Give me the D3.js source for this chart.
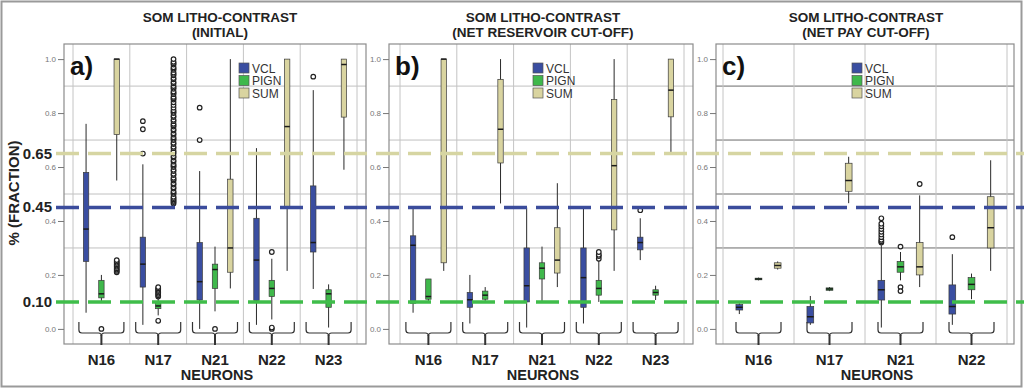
<!DOCTYPE html>
<html>
<head>
<meta charset="utf-8">
<script src="https://cdn.jsdelivr.net/npm/d3@7"></script>
<style>
  body { margin: 0; background: #fff; }
  svg { display: block; font-family: "Liberation Sans", Arial, sans-serif; }
</style>
</head>
<body>
<div id="chart"></div>
<script>
const w = 1024;
const h = 392;

const seriesNames = ["VCL", "PIGN", "SUM"];
const seriesColors = ["#3a4ea1", "#3fb84b", "#d9d4a0"];

const neuronsAB = ["N16", "N17", "N21", "N22", "N23"];
const neuronsC = ["N16", "N17", "N21", "N22"];

// box stats: [low whisker, q1, median, q3, high whisker]
const vclA = [[0.06, 0.25, 0.37, 0.58, 0.76], [0.015, 0.155, 0.24, 0.34, 0.61], [0.0, 0.107, 0.175, 0.32, 0.585], [0.015, 0.105, 0.255, 0.41, 0.67], [0.148, 0.285, 0.32, 0.53, 0.885]];
const pignA = [[0.10, 0.115, 0.13, 0.18, 0.20], [0.05, 0.075, 0.085, 0.10, 0.115], [0.065, 0.15, 0.22, 0.24, 0.305], [0.035, 0.12, 0.15, 0.18, 0.26], [0.005, 0.08, 0.13, 0.145, 0.165]];
const sumA = [[0.55, 0.72, 1.0, 1.0, 1.0], null, [0.15, 0.21, 0.30, 0.555, 1.0], [0.215, 0.45, 0.75, 1.0, 1.0], [0.59, 0.785, 0.98, 1.0, 1.0]];
const vclOutA = [[], [0.77, 0.74, 0.65], [0.82, 0.70], [], [0.935]];
const pignOutA = [[0.0], [0.12, 0.125, 0.13, 0.135, 0.14, 0.145, 0.15, 0.155, 0.03], [0.0], [0.285, 0.0, 0.005], []];
const sumOutA = [
  [0.21, 0.215, 0.22, 0.225, 0.23, 0.235, 0.24, 0.245, 0.25, 0.255],
  [0.465, 0.47, 0.475, 0.48, 0.485, 0.49, 0.50, 0.505, 0.51, 0.52, 0.525, 0.535, 0.54, 0.55, 0.555, 0.56, 0.57, 0.575, 0.585, 0.59, 0.60, 0.605, 0.61, 0.62, 0.625, 0.635, 0.64, 0.65, 0.655, 0.66, 0.67, 0.675, 0.685, 0.69, 0.70, 0.705, 0.71, 0.72, 0.725, 0.735, 0.74, 0.75, 0.755, 0.76, 0.77, 0.775, 0.785, 0.79, 0.80, 0.805, 0.81, 0.82, 0.83, 0.84, 0.85, 0.855, 0.86, 0.87, 0.875, 0.88, 0.89, 0.895, 0.90, 0.91, 0.915, 0.925, 0.93, 0.94, 0.945, 0.95, 0.96, 0.965, 0.97, 0.98, 0.985, 0.99, 1.0],
  [], [], []
];

const vclB = [[0.06, 0.095, 0.31, 0.345, 0.447], [0.02, 0.08, 0.108, 0.135, 0.20], [0.005, 0.10, 0.16, 0.30, 0.45], [0.02, 0.08, 0.19, 0.30, 0.448], [0.255, 0.293, 0.32, 0.34, 0.41]];
const pignB = [[0.10, 0.11, 0.12, 0.185, 0.185], [0.10, 0.11, 0.125, 0.14, 0.155], [0.10, 0.185, 0.225, 0.245, 0.305], [0.10, 0.125, 0.15, 0.18, 0.255], [0.107, 0.125, 0.135, 0.145, 0.16]];
const sumB = [[0.215, 0.245, 1.0, 1.0, 1.0], [0.465, 0.615, 0.74, 0.925, 1.0], [0.155, 0.207, 0.255, 0.375, 0.54], [0.215, 0.367, 0.605, 0.85, 1.0], [0.655, 0.786, 0.885, 1.0, 1.0]];
const vclOutB = [[], [], [], [], [0.44]];
const pignOutB = [[], [], [], [0.26, 0.27, 0.275, 0.285], []];
const sumOutB = [[], [], [], [], []];

const vclC = [[0.055, 0.07, 0.08, 0.09, 0.095], [0.015, 0.022, 0.045, 0.083, 0.122], [0.005, 0.107, 0.145, 0.18, 0.31], [0.015, 0.055, 0.083, 0.163, 0.277]];
const pignC = [[0.18, 0.182, 0.185, 0.188, 0.19], [0.14, 0.143, 0.148, 0.152, 0.155], [0.18, 0.21, 0.23, 0.25, 0.285], [0.11, 0.145, 0.165, 0.19, 0.205]];
const sumC = [[0.22, 0.225, 0.235, 0.245, 0.25], [0.466, 0.51, 0.55, 0.614, 0.638], [0.155, 0.20, 0.23, 0.32, 0.495], [0.215, 0.30, 0.375, 0.49, 0.625]];
const vclOutC = [[], [], [0.32, 0.325, 0.33, 0.34, 0.35, 0.36, 0.37, 0.38, 0.39, 0.41], [0.34]];
const pignOutC = [[], [], [0.305, 0.155, 0.14], []];
const sumOutC = [[], [], [0.537], []];

const yTicks = [0.0, 0.2, 0.4, 0.6, 0.8, 1.0];
const gridValues = [0.3, 0.5, 0.7, 0.9];
const cutoffs = [0.65, 0.45, 0.10];
const cutoffLabels = ["0.65", "0.45", "0.10"];
const cutoffColors = ["#d6d5a2", "#3b4c9c", "#3fbd4a"];

const panels = [
  { tag: "a)", sub: "(INITIAL)", left: 64, right: 366, inner: [73, 357], titleX: 220, footX: 217, legendX: 239,
    neurons: neuronsAB, stats: [vclA, pignA, sumA], outs: [vclOutA, pignOutA, sumOutA], darkGrid: false },
  { tag: "b)", sub: "(NET RESERVOIR CUT-OFF)", left: 389, right: 693, inner: [400, 684], titleX: 543, footX: 543, legendX: 533,
    neurons: neuronsAB, stats: [vclB, pignB, sumB], outs: [vclOutB, pignOutB, sumOutB], darkGrid: false },
  { tag: "c)", sub: "(NET PAY CUT-OFF)", left: 716, right: 1014, inner: [723, 1007], titleX: 866, footX: 877, legendX: 852,
    neurons: neuronsC, stats: [vclC, pignC, sumC], outs: [vclOutC, pignOutC, sumOutC], darkGrid: true }
];

const plotTop = 44, plotBottom = 344;

const svg = d3.select("#chart").append("svg")
  .attr("width", w)
  .attr("height", h);

const y = d3.scaleLinear().domain([-0.056, 1.056]).range([plotBottom, plotTop]);

// outer frame
svg.append("rect")
  .attr("x", 1.5).attr("y", 1.5)
  .attr("width", 1020).attr("height", 385)
  .attr("fill", "none")
  .attr("stroke", "#9a9a9a")
  .attr("stroke-width", 2);

panels.forEach(p => {
  const g = svg.append("g");

  const x = d3.scaleBand().domain(p.neurons).range(p.inner);
  const bw = x.bandwidth();
  const off = d3.scalePoint().domain(seriesNames).range([-bw * 0.27, bw * 0.27]);
  const boxW = bw * 0.095;

  // titles
  g.append("text").attr("x", p.titleX).attr("y", 22)
    .attr("text-anchor", "middle").attr("font-weight", "bold").attr("font-size", 13.5)
    .attr("fill", "#222").text("SOM LITHO-CONTRAST");
  g.append("text").attr("x", p.titleX).attr("y", 37)
    .attr("text-anchor", "middle").attr("font-weight", "bold").attr("font-size", 13.5)
    .attr("fill", "#222").text(p.sub);

  // horizontal grid
  g.selectAll(".hgrid").data(gridValues).enter().append("line")
    .attr("x1", p.left).attr("x2", p.right)
    .attr("y1", d => y(d)).attr("y2", d => y(d))
    .attr("stroke", p.darkGrid ? "#6a6a6a" : "#c0c0c0")
    .attr("stroke-width", 1);

  // vertical grid at band edges
  const edges = p.neurons.map(n => x(n)).concat([x(p.neurons[p.neurons.length - 1]) + bw]);
  g.selectAll(".vgrid").data(edges).enter().append("line")
    .attr("x1", d => d).attr("x2", d => d)
    .attr("y1", plotTop).attr("y2", plotBottom)
    .attr("stroke", "#c4c4c4").attr("stroke-width", 1);

  // plot frame
  g.append("rect")
    .attr("x", p.left).attr("y", plotTop)
    .attr("width", p.right - p.left).attr("height", plotBottom - plotTop)
    .attr("fill", "none").attr("stroke", "#8c8c8c").attr("stroke-width", 1.2);

  // y axis
  const yAxis = g.append("g")
    .attr("transform", `translate(${p.left},0)`)
    .call(d3.axisLeft(y).tickValues(yTicks).tickFormat(d3.format(".1f")).tickSize(6).tickPadding(2));
  yAxis.select(".domain").remove();
  yAxis.selectAll("line").attr("stroke", "#777");
  yAxis.selectAll("text").attr("font-size", 8).attr("fill", "#777")
    .attr("font-family", "'Liberation Sans', Arial, sans-serif");

  // boxes
  seriesNames.forEach((s, si) => {
    p.neurons.forEach((n, ni) => {
      const cx = x(n) + bw / 2 + off(s);
      const st = p.stats[si][ni];
      if (st) {
        g.append("line")
          .attr("x1", cx).attr("x2", cx)
          .attr("y1", y(st[0])).attr("y2", y(st[4]))
          .attr("stroke", "#2a2a2a").attr("stroke-width", 1);
        g.append("rect")
          .attr("x", cx - boxW / 2).attr("y", y(st[3]))
          .attr("width", boxW).attr("height", Math.max(1.5, y(st[1]) - y(st[3])))
          .attr("fill", seriesColors[si])
          .attr("stroke", "#3a3a3a").attr("stroke-width", 0.7);
        g.append("line")
          .attr("x1", cx - boxW / 2).attr("x2", cx + boxW / 2)
          .attr("y1", y(st[2])).attr("y2", y(st[2]))
          .attr("stroke", "#1a1a1a").attr("stroke-width", 1.5);
      }
      g.selectAll(null).data(p.outs[si][ni]).enter().append("circle")
        .attr("cx", cx).attr("cy", d => y(d))
        .attr("r", 2.3)
        .attr("fill", "#fff")
        .attr("stroke", "#222").attr("stroke-width", 1.2);
    });
  });

  // braces under each neuron group
  p.neurons.forEach(n => {
    const cx = x(n) + bw / 2;
    const x0 = cx - 22.5, x1 = cx + 22.5;
    const yt = 322, yb = 333;
    g.append("path")
      .attr("d", `M${x0},${yt} L${x0},${yb - 3} Q${x0},${yb} ${x0 + 3},${yb} L${cx - 3},${yb} Q${cx},${yb} ${cx},${yb + 3}` +
                 ` Q${cx},${yb} ${cx + 3},${yb} L${x1 - 3},${yb} Q${x1},${yb} ${x1},${yb - 3} L${x1},${yt}`)
      .attr("fill", "none").attr("stroke", "#333").attr("stroke-width", 1.2);
    g.append("line")
      .attr("x1", cx).attr("x2", cx).attr("y1", yb + 2).attr("y2", plotBottom + 1)
      .attr("stroke", "#333").attr("stroke-width", 2);
  });

  // category labels
  g.selectAll(".cat").data(p.neurons).enter().append("text")
    .attr("x", n => x(n) + bw / 2).attr("y", 365)
    .attr("text-anchor", "middle").attr("font-weight", "bold").attr("font-size", 15)
    .attr("fill", "#222").text(n => n);
  g.append("text").attr("x", p.footX).attr("y", 380)
    .attr("text-anchor", "middle").attr("font-weight", "bold").attr("font-size", 14.5)
    .attr("fill", "#222").text("NEURONS");

  // panel tag
  g.append("text").attr("x", p.left + 6).attr("y", 75)
    .attr("font-weight", "bold").attr("font-size", 26)
    .attr("fill", "#111").text(p.tag);

  // legend
  const leg = g.append("g").attr("transform", `translate(${p.legendX},63)`);
  seriesNames.forEach((s, si) => {
    leg.append("rect").attr("x", 0).attr("y", si * 12.5)
      .attr("width", 10).attr("height", 10)
      .attr("fill", seriesColors[si]).attr("stroke", "#555").attr("stroke-width", 0.7);
    leg.append("text").attr("x", 13).attr("y", si * 12.5 + 9.5)
      .attr("font-size", 12).attr("fill", "#333")
      .attr("font-family", "'Liberation Sans Narrow', 'Arial Narrow', sans-serif")
      .text(s);
  });
});

// cut-off dashed lines across all panels
cutoffs.forEach((c, i) => {
  svg.append("line")
    .attr("x1", 56).attr("x2", 1024)
    .attr("y1", y(c)).attr("y2", y(c))
    .attr("stroke", cutoffColors[i]).attr("stroke-width", 3.5)
    .attr("stroke-dasharray", "23,9");
  svg.append("text")
    .attr("x", 52).attr("y", y(c) + 5)
    .attr("text-anchor", "end").attr("font-weight", "bold").attr("font-size", 15)
    .attr("fill", "#222").text(cutoffLabels[i]);
});

// y axis title
svg.append("text")
  .attr("transform", "translate(19,193) rotate(-90)")
  .attr("text-anchor", "middle").attr("font-weight", "bold").attr("font-size", 15)
  .attr("fill", "#222").text("% (FRACTION)");
</script>
</body>
</html>
